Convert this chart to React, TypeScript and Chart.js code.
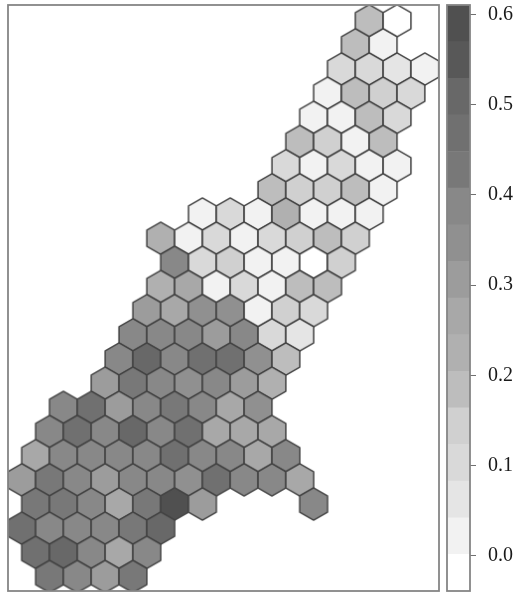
import React, { useEffect, useRef } from "react";
import { Chart, registerables } from "chart.js";

Chart.register(...registerables);

// Hexagon rows, top to bottom: first column index, then cell values (null = empty cell)
const rowStarts = [12, 12, 11, 11, 10, 10, 9, 9, 6, 5, 5, 5, 4, 4, 3, 3, 1, 1, 0, 0, 0, 0, 0, 1];
const rowValues: (number | null)[][] = [
  [0.185, -0.01],
  [0.185, 0.02],
  [0.1, 0.1, 0.05, 0.02],
  [0.02, 0.18, 0.14, 0.1],
  [0.02, 0.03, 0.19, 0.1],
  [0.185, 0.14, 0.04, 0.19],
  [0.1, 0.04, 0.1, 0.04, 0.04],
  [0.185, 0.14, 0.15, 0.19, 0.02],
  [0.04, 0.1, 0.04, 0.225, 0.04, 0.04, 0.02],
  [0.225, 0.02, 0.1, 0.04, 0.1, 0.14, 0.185, 0.14],
  [0.39, 0.1, 0.14, 0.04, 0.04, -0.01, 0.14],
  [0.225, 0.265, 0.04, 0.1, 0.04, 0.185, 0.185],
  [0.31, 0.265, 0.345, 0.345, 0.04, 0.14, 0.1],
  [0.37, 0.37, 0.37, 0.305, 0.39, 0.1, 0.08],
  [0.39, 0.51, 0.39, 0.47, 0.47, 0.345, 0.19],
  [0.31, 0.42, 0.37, 0.345, 0.39, 0.31, 0.225],
  [0.37, 0.45, 0.31, 0.37, 0.42, 0.37, 0.265, 0.345],
  [0.39, 0.45, 0.39, 0.49, 0.39, 0.45, 0.265, 0.25, 0.265],
  [0.265, 0.37, 0.37, 0.37, 0.37, 0.45, 0.37, 0.37, 0.265, 0.39],
  [0.31, 0.41, 0.37, 0.31, 0.37, 0.37, 0.345, 0.45, 0.37, 0.39, 0.265],
  [0.42, 0.41, 0.37, 0.265, 0.42, 0.57, 0.31, null, null, null, 0.37],
  [0.45, 0.37, 0.37, 0.37, 0.42, 0.51],
  [0.45, 0.49, 0.37, 0.265, 0.37],
  [0.42, 0.37, 0.31, 0.42],
];

// Colour key
const keyLow = -0.039;
const keyStep = 0.0406;
const keyGrays = [
  "#ffffff", "#f2f2f2", "#e5e5e5", "#d9d9d9", "#d0d0d0", "#bdbdbd", "#b0b0b0", "#a8a8a8",
  "#9c9c9c", "#909090", "#888888", "#787878", "#707070", "#686868", "#585858", "#505050",
];
const keyTicks = [0, 0.1, 0.2, 0.3, 0.4, 0.5, 0.6];

const FRAME = "#858585";
const EDGE = "#444444";

function hexSprite(fill: string) {
  const w = 27.8;
  const r = w / Math.sqrt(3);
  const c = document.createElement("canvas");
  c.width = 34;
  c.height = 38;
  const g = c.getContext("2d")!;
  g.translate(17, 19);
  g.beginPath();
  for (let i = 0; i < 6; i++) {
    const a = Math.PI / 6 + (i * Math.PI) / 3;
    const px = r * Math.cos(a);
    const py = r * Math.sin(a);
    if (i === 0) g.moveTo(px, py);
    else g.lineTo(px, py);
  }
  g.closePath();
  g.fillStyle = fill;
  g.fill();
  g.lineWidth = 1.5;
  g.strokeStyle = EDGE;
  g.lineJoin = "round";
  g.stroke();
  return c;
}

function levelOf(v: number) {
  return Math.max(0, Math.min(keyGrays.length - 1, Math.floor((v - keyLow) / keyStep)));
}

const framePlugin = {
  id: "frame",
  afterDraw(chart: any) {
    const { left, top, width, height } = chart.chartArea;
    const ctx = chart.ctx;
    ctx.save();
    ctx.strokeStyle = FRAME;
    ctx.lineWidth = 1.8;
    ctx.strokeRect(left, top, width, height);
    ctx.restore();
  },
};

export default function App() {
  const mainRef = useRef<HTMLCanvasElement>(null);
  const keyRef = useRef<HTMLCanvasElement>(null);

  useEffect(() => {
    const sprites = keyGrays.map(hexSprite);
    const points: { x: number; y: number; v: number }[] = [];
    rowValues.forEach((vals, row) => {
      vals.forEach((v, i) => {
        if (v === null) return;
        const col = rowStarts[row] + i;
        points.push({ x: row % 2 === 0 ? col + 0.5 : col, y: row, v });
      });
    });

    const main = new Chart(mainRef.current!, {
      type: "scatter",
      data: {
        datasets: [
          {
            data: points as any,
            clip: 0 as any,
            pointStyle: ((c: any) => sprites[levelOf(c.raw.v)]) as any,
            pointRadius: 14,
          },
        ],
      },
      options: {
        animation: false,
        responsive: false,
        layout: { autoPadding: false, padding: { left: 8, right: 9, top: 5, bottom: 4 } },
        plugins: { legend: { display: false }, tooltip: { enabled: false } },
        scales: {
          x: { type: "linear", display: false, min: -0.493, max: 15.01 },
          y: { type: "linear", display: false, reverse: true, min: -0.65, max: 23.6 },
        },
      },
      plugins: [framePlugin],
    });

    const key = new Chart(keyRef.current!, {
      type: "bar",
      data: {
        labels: ["key"],
        datasets: keyGrays.map((gray, i) => ({
          data: [[keyLow + i * keyStep, keyLow + (i + 1) * keyStep]] as any,
          backgroundColor: gray,
          borderWidth: 0,
          barPercentage: 1,
          categoryPercentage: 1,
          grouped: false,
        })),
      },
      options: {
        animation: false,
        responsive: false,
        layout: { autoPadding: false, padding: { left: 7, right: 0, top: 5, bottom: 4 } },
        plugins: { legend: { display: false }, tooltip: { enabled: false } },
        scales: {
          x: { display: false },
          y: {
            type: "linear",
            position: "right",
            min: keyLow,
            max: keyLow + keyGrays.length * keyStep,
            afterBuildTicks: (s: any) => {
              s.ticks = keyTicks.map((value) => ({ value }));
            },
            afterFit: (s: any) => {
              s.width = 50;
              s.paddingTop = 0;
              s.paddingBottom = 0;
            },
            border: { display: false },
            grid: {
              drawOnChartArea: false,
              drawTicks: true,
              tickLength: 6,
              color: "#707070",
              lineWidth: 1,
            },
            ticks: {
              padding: 12,
              color: "#1a1a1a",
              font: { family: "'Liberation Serif'", size: 20 },
              callback: (v: any) => Number(v).toFixed(1),
            },
          },
        },
      },
      plugins: [framePlugin],
    });

    return () => {
      main.destroy();
      key.destroy();
    };
  }, []);

  return (
    <div style={{ position: "absolute", left: 0, top: 0, width: 520, height: 595, background: "#fff" }}>
      <canvas ref={mainRef} width={448} height={595} style={{ position: "absolute", left: 0, top: 0 }} />
      <canvas ref={keyRef} width={80} height={595} style={{ position: "absolute", left: 440, top: 0 }} />
    </div>
  );
}
